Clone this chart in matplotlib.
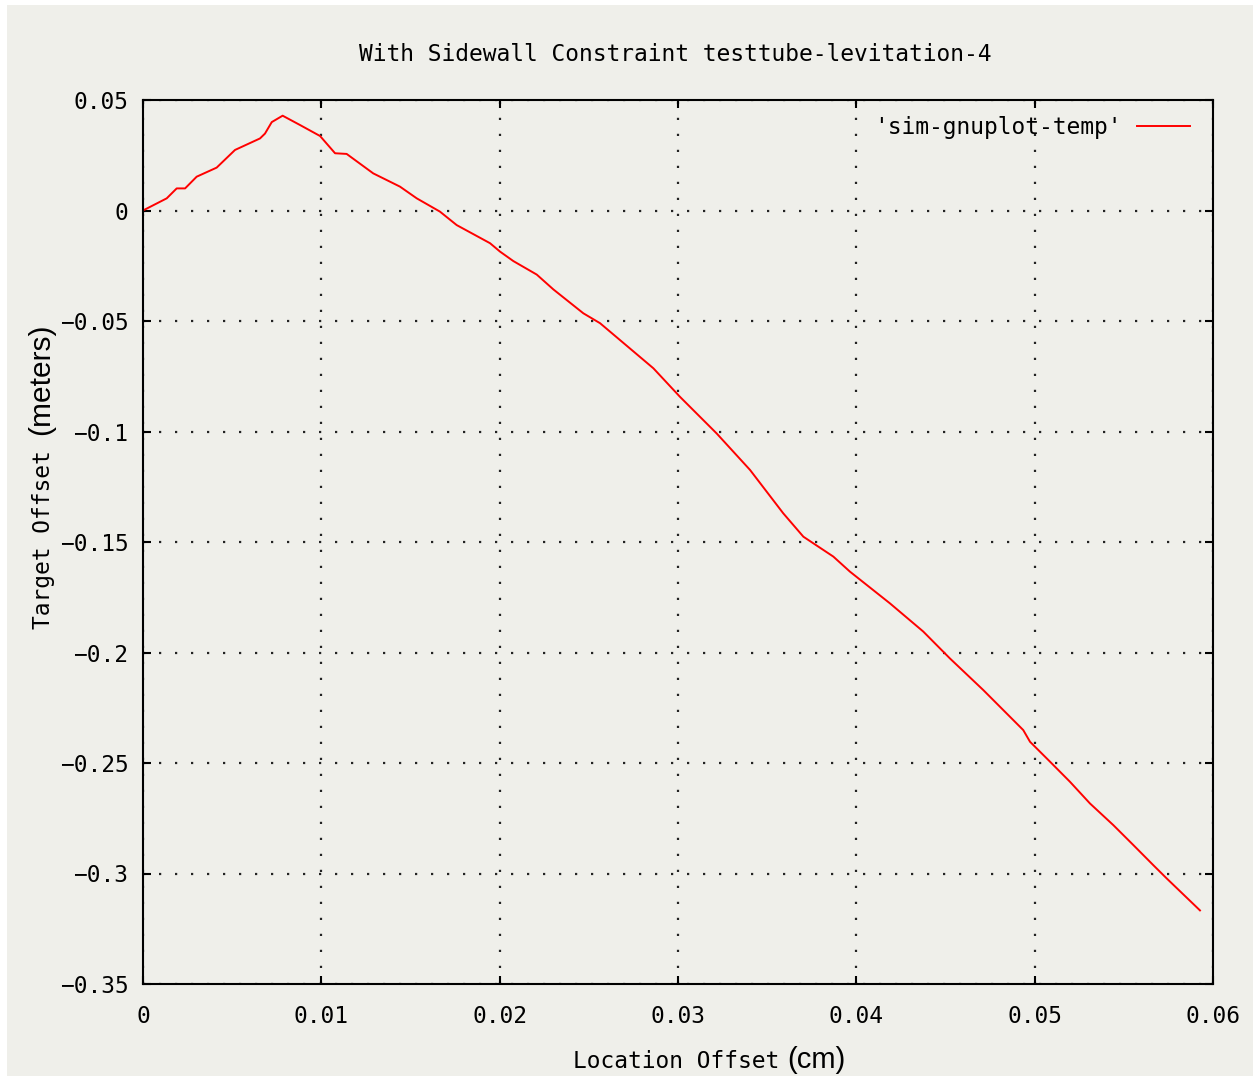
import matplotlib
matplotlib.use('Agg')
import matplotlib.pyplot as plt
from matplotlib.patches import Rectangle

# ~~> data
location_offset = [0.0, 0.00133, 0.00189, 0.00236, 0.00301, 0.00413, 0.00516,
                   0.00656, 0.00684, 0.00722, 0.00783, 0.00880, 0.00993,
                   0.01077, 0.01142, 0.01291, 0.01441, 0.01535, 0.01665,
                   0.01759, 0.01946, 0.02002, 0.02077, 0.02208, 0.02301,
                   0.02469, 0.02563, 0.02862, 0.03011, 0.03217, 0.03404,
                   0.03590, 0.03703, 0.03871, 0.03964, 0.04189, 0.04375,
                   0.04525, 0.04712, 0.04936, 0.04974, 0.05086, 0.05198,
                   0.05310, 0.05441, 0.05553, 0.05665, 0.05740, 0.05927]
target_offset = [0.0, 0.0055, 0.0100, 0.0100, 0.0153, 0.0194, 0.0274,
                 0.0326, 0.0348, 0.0400, 0.0429, 0.0387, 0.0337,
                 0.0259, 0.0256, 0.0168, 0.0108, 0.0055, -0.0005,
                 -0.0066, -0.0148, -0.0186, -0.0229, -0.0290, -0.0357,
                 -0.0465, -0.0510, -0.0714, -0.0843, -0.1009, -0.1174,
                 -0.1370, -0.1476, -0.1566, -0.1634, -0.1778, -0.1905,
                 -0.2027, -0.2170, -0.2351, -0.2404, -0.2494, -0.2585,
                 -0.2683, -0.2781, -0.2871, -0.2962, -0.3022, -0.3167]
x_ticks = [0, 0.01, 0.02, 0.03, 0.04, 0.05, 0.06]
x_labels = ['0', '0.01', '0.02', '0.03', '0.04', '0.05', '0.06']
y_ticks = [0.05, 0, -0.05, -0.1, -0.15, -0.2, -0.25, -0.3, -0.35]
y_labels = ['0.05', '0', '-0.05', '-0.1', '-0.15', '-0.2', '-0.25', '-0.3',
            '-0.35']
series_name = "'sim-gnuplot-temp'"

W, H = 1253, 1078
bg = '#efefea'
mono = 'DejaVu Sans Mono'
fsize = 16.5

fig = plt.figure(figsize=(W / 100, H / 100), dpi=100, facecolor='white')
fig.patches.append(Rectangle((7 / W, 2 / H), 1 - 7 / W, 1 - 7 / H,
                             transform=fig.transFigure, facecolor=bg,
                             edgecolor='none', zorder=-10))

ax = fig.add_axes([143 / W, 1 - 984 / H, 1070 / W, 884 / H])
ax.set_facecolor(bg)
ax.plot(location_offset, target_offset, color='red', lw=1.4,
        label=series_name)

ax.set_xlim(0, 0.06)
ax.set_ylim(-0.35, 0.05)
ax.set_xticks(x_ticks)
ax.set_xticklabels(x_labels, fontfamily=mono, fontsize=fsize)
ax.set_yticks(y_ticks)
ax.set_yticklabels([l.replace('-', '\u2212') for l in y_labels],
                   fontfamily=mono, fontsize=fsize)
ax.tick_params(direction='in', length=6, width=1.5, top=True, right=True,
               colors='black')
ax.tick_params(axis='x', pad=15)
ax.tick_params(axis='y', pad=10.5)
for sp in ax.spines.values():
    sp.set_linewidth(1.5)
ax.grid(True, color='#222222', lw=1.6, linestyle=(0, (1, 6.2)))

leg = ax.legend(loc='upper right', bbox_to_anchor=(0.9785, 0.982),
                frameon=False, markerfirst=False, borderpad=0,
                borderaxespad=0, handlelength=2.3, handletextpad=0.7,
                prop={'family': mono, 'size': fsize})

# ~~> title and axis labels (gnuplot mono text mixed with a sans part)
fig.text(675 / W, 1 - 61 / H, 'With Sidewall Constraint testtube-levitation-4',
         ha='center', va='baseline', fontfamily=mono, fontsize=fsize)
fig.text(573 / W, 1 - 1068 / H, 'Location Offset', ha='left', va='baseline',
         fontfamily=mono, fontsize=fsize)
fig.text(787 / W, 1 - 1068 / H, '(cm)', ha='left', va='baseline',
         fontfamily='Liberation Sans', fontsize=21)
fig.text(50 / W, 1 - 629 / H, 'Target Offset', ha='left', va='baseline',
         rotation=90, rotation_mode='anchor', fontfamily=mono, fontsize=fsize)
fig.text(49 / W, 1 - 435 / H, '(meters)', ha='left', va='baseline',
         rotation=90, rotation_mode='anchor', fontfamily='Liberation Sans',
         fontsize=21.5)

fig.savefig('out.png', dpi=100, facecolor='white')
